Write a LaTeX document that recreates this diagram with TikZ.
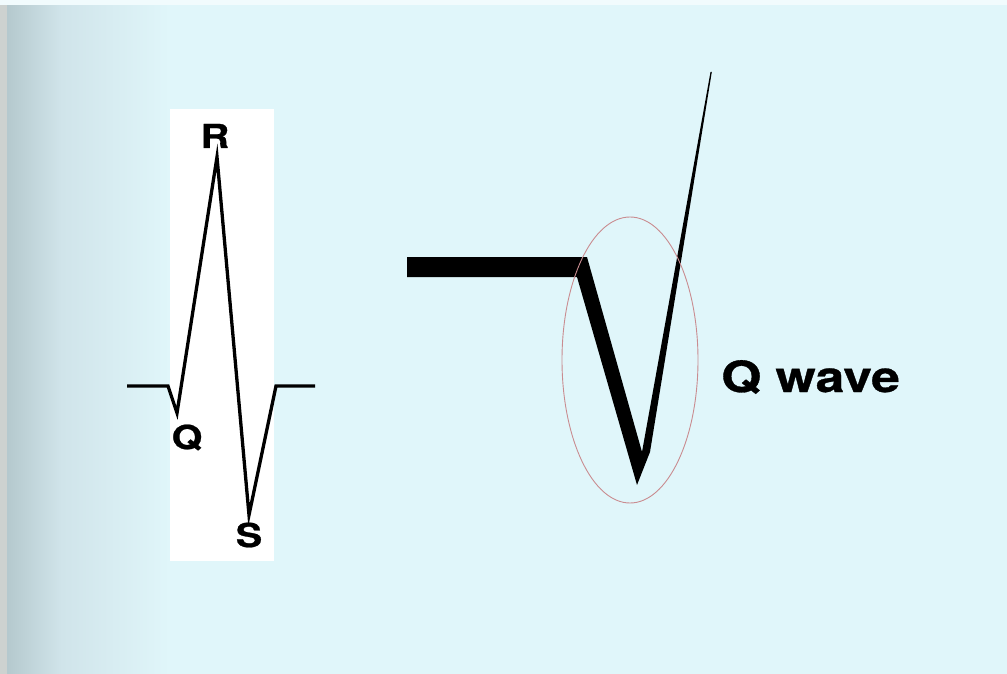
\documentclass[tikz,border=0pt]{standalone}
\usepackage{fontspec}
\setmainfont{TeX Gyre Heros}
\newfontfamily\heavyfont{texgyreheros-bold.otf}[FakeBold=0.7]
\definecolor{bg}{HTML}{E0F6FA}
\definecolor{bgdark}{HTML}{B4C8CD}
\definecolor{bgmid}{HTML}{D0E4EA}
\definecolor{edgegray}{HTML}{CDD2D0}
\definecolor{ring}{HTML}{C98C90}
\pgfdeclarehorizontalshading{leftfade}{100bp}{color(0bp)=(bgdark); color(25bp)=(bgdark); color(42bp)=(bgmid); color(75bp)=(bg); color(100bp)=(bg)}
\begin{document}
\begin{tikzpicture}[x=1pt,y=-1pt,
  ecg/.style={line width=3.3pt, line join=miter, miter limit=25},
  lab/.style={font=\heavyfont\fontsize{33}{36}\selectfont, inner sep=0pt, anchor=base},
  biglab/.style={font=\heavyfont\fontsize{43}{46}\selectfont, inner sep=0pt, anchor=base west},
  ringline/.style={draw=ring, line width=0.9pt}]
\useasboundingbox (0,0) rectangle (1007,674);
% background
\fill[bg] (0,0) rectangle (1007,674);
\shade[shading=leftfade] (6,0) rectangle (170,674);
\fill[edgegray] (0,0) rectangle (7,674);
\fill[white!55!bg] (0,0) rectangle (1007,5);
% white panel
\fill[white] (170,109) rectangle (274,561);
% QRS complex
\coordinate (b0) at (127,386);
\coordinate (b1) at (168,386);
\coordinate (qpt) at (177,413);
\coordinate (rpt) at (217,157);
\coordinate (spt) at (249,515);
\coordinate (b2) at (276,386);
\coordinate (b3) at (315,386);
\draw[ecg] (b0) -- (b1) -- (qpt) -- (rpt) -- (spt) -- (b2) -- (b3);
\node[lab] (R) at (215,148) {\scalebox{1.2}[1]{R}};
\node[lab] (Q) at (187,449) {\scalebox{1.2}[1]{Q}};
\node[lab] (S) at (249,547) {\scalebox{1.2}[1]{S}};
% enlarged Q wave
\fill[black] (407,257) -- (587,257) -- (642,452) -- (710.5,72) -- (711.8,72)
  -- (650,452) -- (637,485) -- (577,277) -- (407,277) -- cycle;
\draw[ringline] (630,360) ellipse [x radius=68, y radius=143];
\node[biglab] (QW) at (721,392) {\scalebox{1.2}[1]{Q wave}};
\end{tikzpicture}
\end{document}
